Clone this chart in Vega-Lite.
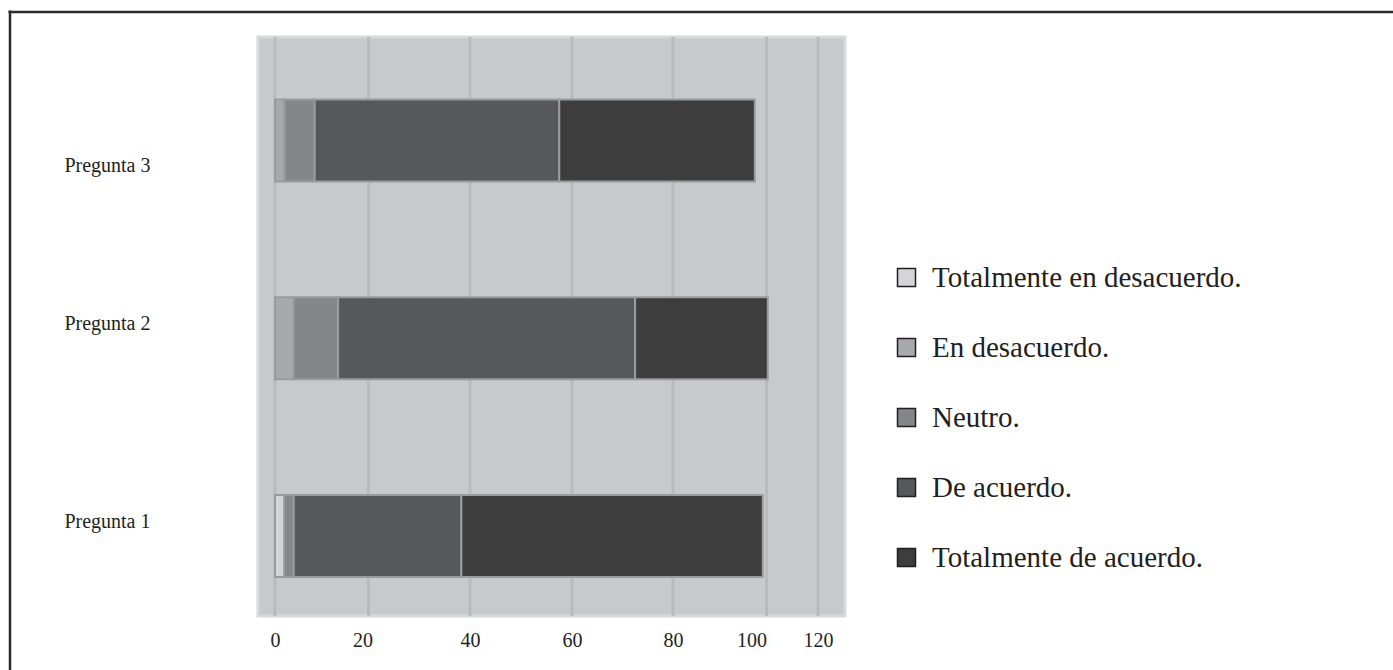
{
  "$schema": "https://vega.github.io/schema/vega-lite/v6.json",
  "width": 587,
  "height": 579,
  "autosize": {"type": "none"},
  "padding": {"left": 258, "top": 37, "right": 548, "bottom": 54},
  "background": "white",
  "config": {
    "view": {"fill": "#c8c9cb", "stroke": "#d8d9db", "strokeWidth": 3},
    "font": "Liberation Serif"
  },
  "layer": [
    {
      "data": {"values": [{"v": 0}, {"v": 20}, {"v": 40}, {"v": 60}, {"v": 80}, {"v": 100}, {"v": 120}]},
      "mark": {"type": "rule", "color": "#b9babd", "strokeWidth": 3},
      "encoding": {
        "x": {
          "field": "v",
          "type": "quantitative",
          "scale": {
            "domain": [-60, 0, 20, 40, 60, 80, 100, 120, 300],
            "range": [-250, 17, 110.5, 212, 314, 415, 508.5, 560, 1200]
          },
          "axis": {
            "orient": "top",
            "offset": 25.5,
            "title": null,
            "labels": false,
            "ticks": false,
            "grid": false,
            "domain": true,
            "domainColor": "#2b2b2b",
            "domainWidth": 2.5
          }
        }
      }
    },
    {
      "data": {
        "values": [
          {"pregunta": "Pregunta 3", "respuesta": "En desacuerdo.", "nivel": 2, "porcentaje": 2},
          {"pregunta": "Pregunta 3", "respuesta": "Neutro.", "nivel": 3, "porcentaje": 6.5},
          {"pregunta": "Pregunta 3", "respuesta": "De acuerdo.", "nivel": 4, "porcentaje": 49},
          {"pregunta": "Pregunta 3", "respuesta": "Totalmente de acuerdo.", "nivel": 5, "porcentaje": 40},
          {"pregunta": "Pregunta 2", "respuesta": "En desacuerdo.", "nivel": 2, "porcentaje": 4},
          {"pregunta": "Pregunta 2", "respuesta": "Neutro.", "nivel": 3, "porcentaje": 9.5},
          {"pregunta": "Pregunta 2", "respuesta": "De acuerdo.", "nivel": 4, "porcentaje": 59},
          {"pregunta": "Pregunta 2", "respuesta": "Totalmente de acuerdo.", "nivel": 5, "porcentaje": 28},
          {"pregunta": "Pregunta 1", "respuesta": "Totalmente en desacuerdo.", "nivel": 1, "porcentaje": 2},
          {"pregunta": "Pregunta 1", "respuesta": "Neutro.", "nivel": 3, "porcentaje": 2},
          {"pregunta": "Pregunta 1", "respuesta": "De acuerdo.", "nivel": 4, "porcentaje": 34.3},
          {"pregunta": "Pregunta 1", "respuesta": "Totalmente de acuerdo.", "nivel": 5, "porcentaje": 60.9}
        ]
      },
      "mark": {"type": "bar", "stroke": "#9a9b9e", "strokeWidth": 2},
      "encoding": {
        "y": {
          "field": "pregunta",
          "type": "nominal",
          "sort": ["Pregunta 3", "Pregunta 2", "Pregunta 1"],
          "scale": {"range": [-27, 700], "paddingInner": 0.5853, "paddingOuter": 0.63085, "align": 0.3587},
          "axis": {
            "title": null,
            "orient": "left",
            "offset": 248.5,
            "domain": true,
            "domainColor": "#2b2b2b",
            "domainWidth": 2.5,
            "ticks": false,
            "tickSize": 0,
            "grid": false,
            "labelFont": "Liberation Serif",
            "labelFontSize": 20,
            "labelColor": "#231f20",
            "labelAlign": "right",
            "labelBaseline": "middle",
            "labelPadding": -140.5,
            "labelOffset": {"condition": {"test": "datum.value === 'Pregunta 3'", "value": 26}, "value": -14}
          }
        },
        "x": {
          "field": "porcentaje",
          "type": "quantitative",
          "stack": "zero",
          "scale": {
            "domain": [0, 20, 40, 60, 80, 100, 120],
            "range": [17, 110.5, 212, 314, 415, 508.5, 560]
          },
          "axis": {
            "title": null,
            "values": [0, 20, 40, 60, 80, 100, 120],
            "grid": false,
            "domain": false,
            "ticks": false,
            "tickSize": 0,
            "labelFont": "Liberation Serif",
            "labelFontSize": 20,
            "labelColor": "#231f20",
            "labelPadding": 14,
            "labelFlush": false,
            "labelOverlap": false,
            "labelOffset": {
              "condition": [
                {"test": "datum.value == 100", "value": -15},
                {"test": "datum.value == 20", "value": -6}
              ],
              "value": 0
            }
          }
        },
        "order": {"field": "nivel", "type": "quantitative", "sort": "ascending"},
        "color": {
          "field": "respuesta",
          "type": "nominal",
          "scale": {
            "domain": ["Totalmente en desacuerdo.", "En desacuerdo.", "Neutro.", "De acuerdo.", "Totalmente de acuerdo."],
            "range": ["#d5d5d7", "#a8a9ac", "#85868a", "#57585a", "#3d3d3d"]
          },
          "legend": {
            "title": null,
            "orient": "none",
            "legendX": 634,
            "legendY": 226,
            "symbolType": "square",
            "symbolSize": 324,
            "symbolStrokeColor": "#231f20",
            "symbolStrokeWidth": 1.5,
            "labelFont": "Liberation Serif",
            "labelFontSize": 29,
            "labelColor": "#231f20",
            "labelOffset": 11,
            "labelLimit": 0,
            "rowPadding": 40
          }
        }
      }
    }
  ],
  "resolve": {"scale": {"x": "independent"}, "axis": {"x": "independent"}}
}
